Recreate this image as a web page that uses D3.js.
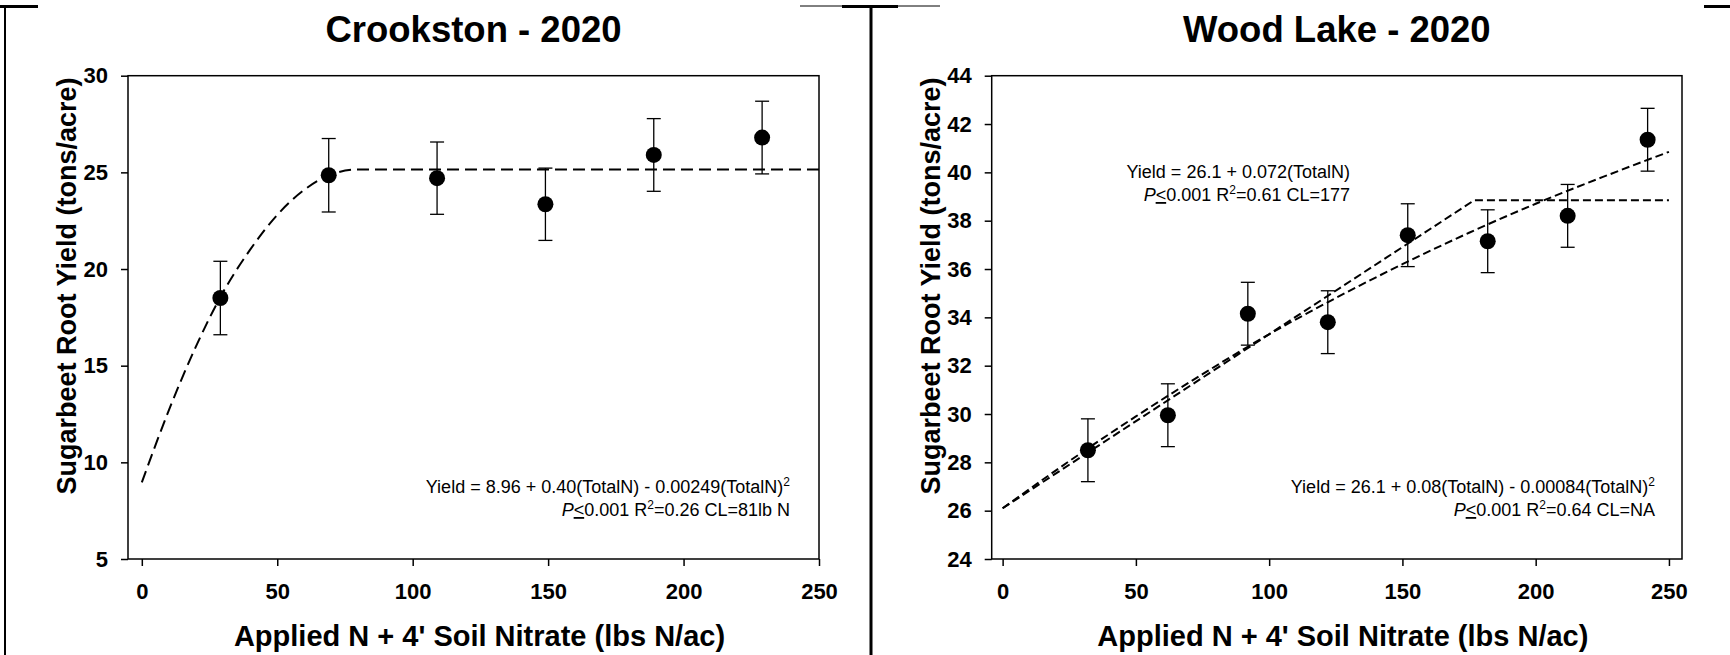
<!DOCTYPE html>
<html>
<head>
<meta charset="utf-8">
<script src="https://cdn.jsdelivr.net/npm/d3@7"></script>
<style>
  body { margin: 0; background: #fff; }
  text { font-family: "Liberation Sans", Arial, sans-serif; }
</style>
</head>
<body>
<div id="chart-area"></div>
<script>
// Crookston 2020
var ckN = [29, 69, 109, 149, 189, 229];
var ckYield = [18.5, 24.85, 24.7, 23.35, 25.9, 26.8];
var ckErr = [1.9, 1.9, 1.87, 1.87, 1.88, 1.88];
var ckFitN = [0, 10, 20, 30, 40, 50, 60, 70, 80, 250];
var ckFitY = [8.96, 12.7, 16.0, 18.8, 21.0, 22.8, 24.1, 24.9, 25.15, 25.15];
var ckYTicks = [5, 10, 15, 20, 25, 30];

// Wood Lake 2020
var wlN = [32, 62, 92, 122, 152, 182, 212, 242];
var wlYield = [28.5, 29.95, 34.15, 33.8, 37.4, 37.15, 38.2, 41.35];
var wlErr = [1.3, 1.3, 1.3, 1.3, 1.3, 1.3, 1.3, 1.3];
var wlLinN = [0, 177, 250];
var wlLinY = [26.1, 38.85, 38.85];
var wlQuadN = [0, 25, 50, 75, 100, 125, 150, 175, 200, 225, 250];
var wlQuadY = [26.1, 28.05, 29.9, 31.65, 33.3, 34.8, 36.2, 37.5, 38.7, 39.8, 40.85];
var wlYTicks = [24, 26, 28, 30, 32, 34, 36, 38, 40, 42, 44];

var xTicks = [0, 50, 100, 150, 200, 250];

var svg = d3.select("#chart-area").append("svg")
  .attr("width", 1730)
  .attr("height", 655)
  .style("background-color", "white");

// page frame bits
svg.append("line").attr("x1", 5).attr("x2", 5).attr("y1", 6).attr("y2", 655)
  .attr("stroke", "black").attr("stroke-width", 2);
svg.append("line").attr("x1", 871).attr("x2", 871).attr("y1", 6).attr("y2", 655)
  .attr("stroke", "black").attr("stroke-width", 3);
svg.append("line").attr("x1", 800).attr("x2", 940).attr("y1", 6).attr("y2", 6)
  .attr("stroke", "black").attr("stroke-width", 1);
[[0, 38], [842, 898], [1704, 1730]].forEach((s) => {
  svg.append("line").attr("x1", s[0]).attr("x2", s[1]).attr("y1", 6.5).attr("y2", 6.5)
    .attr("stroke", "black").attr("stroke-width", 3);
});

function sup(t, s, dy) {
  t.append("tspan").attr("dy", dy).attr("font-size", 12).text(s);
}

function drawPanel(p) {
  var x = d3.scaleLinear().domain(p.xDomain).range([p.left, p.right]);
  var y = d3.scaleLinear().domain(p.yDomain).range([559, 75.7]);
  var g = svg.append("g");

  // frame
  g.append("rect")
    .attr("x", p.left).attr("y", 75.7)
    .attr("width", p.right - p.left).attr("height", 559 - 75.7)
    .attr("fill", "none").attr("stroke", "black").attr("stroke-width", 1.5);

  var xAxis = g.append("g")
    .attr("transform", "translate(0,559)")
    .call(d3.axisBottom(x).tickValues(xTicks).tickSize(7).tickPadding(17).tickSizeOuter(0));
  var yAxis = g.append("g")
    .attr("transform", "translate(" + p.left + ",0)")
    .call(d3.axisLeft(y).tickValues(p.yTicks).tickSize(7).tickPadding(13).tickSizeOuter(0));
  [xAxis, yAxis].forEach((a) => {
    a.select(".domain").remove();
    a.selectAll("line").attr("stroke-width", 1.5);
    a.selectAll("text").attr("font-family", "Liberation Sans, Arial, sans-serif")
      .attr("font-size", 22).attr("font-weight", "bold").attr("fill", "black");
  });

  // title + axis labels
  var cx = (p.left + p.right) / 2;
  g.append("text").attr("x", cx).attr("y", 42).attr("text-anchor", "middle")
    .attr("font-size", 36.5).attr("font-weight", "bold").text(p.title);
  g.append("text").attr("x", cx + 6).attr("y", 646).attr("text-anchor", "middle")
    .attr("font-size", 29).attr("font-weight", "bold")
    .text("Applied N + 4' Soil Nitrate (lbs N/ac)");
  g.append("text")
    .attr("transform", "translate(" + (p.left - 52) + ",286) rotate(-90)")
    .attr("text-anchor", "middle")
    .attr("font-size", 27).attr("font-weight", "bold")
    .text("Sugarbeet Root Yield (tons/acre)");

  // fitted lines
  p.fits.forEach((f) => {
    var pts = f.n.map((d, i) => [d, f.y[i]]);
    g.append("path")
      .datum(pts)
      .attr("d", d3.line().x((d) => x(d[0])).y((d) => y(d[1])).curve(f.curve))
      .attr("fill", "none").attr("stroke", "black").attr("stroke-width", 2)
      .attr("stroke-dasharray", p.dash);
  });

  // error bars and points
  var pts = p.n.map((d, i) => ({ n: d, v: p.v[i], e: p.e[i] }));
  var bars = g.selectAll(".eb").data(pts).enter().append("g");
  bars.append("line")
    .attr("x1", (d) => x(d.n)).attr("x2", (d) => x(d.n))
    .attr("y1", (d) => y(d.v + d.e)).attr("y2", (d) => y(d.v - d.e))
    .attr("stroke", "black").attr("stroke-width", 1.3);
  [1, -1].forEach((s) => {
    bars.append("line")
      .attr("x1", (d) => x(d.n) - 7).attr("x2", (d) => x(d.n) + 7)
      .attr("y1", (d) => y(d.v + s * d.e)).attr("y2", (d) => y(d.v + s * d.e))
      .attr("stroke", "black").attr("stroke-width", 1.3);
  });
  g.selectAll("circle").data(pts).enter().append("circle")
    .attr("cx", (d) => x(d.n)).attr("cy", (d) => y(d.v)).attr("r", 8)
    .attr("fill", "black");

  // equations
  p.eqs.forEach((q) => {
    var t1 = g.append("text").attr("x", q.x).attr("y", q.y).attr("text-anchor", "end")
      .attr("font-size", 18);
    t1.append("tspan").text(q.line1);
    if (q.sq) sup(t1, "2", -7);
    var t2 = g.append("text").attr("x", q.x).attr("y", q.y + 23).attr("text-anchor", "end")
      .attr("font-size", 18);
    t2.append("tspan").attr("font-style", "italic").text("P");
    t2.append("tspan").style("text-decoration", "underline").text("<");
    t2.append("tspan").text("0.001 R");
    sup(t2, "2", -7);
    t2.append("tspan").attr("dy", 7).text(q.line2);
  });
}

drawPanel({
  title: "Crookston - 2020",
  left: 128, right: 819,
  xDomain: [-5.1, 250], yDomain: [5, 30], yTicks: ckYTicks,
  n: ckN, v: ckYield, e: ckErr,
  dash: "12,6",
  fits: [{ n: ckFitN, y: ckFitY, curve: d3.curveMonotoneX }],
  eqs: [{ x: 790, y: 493, sq: true,
    line1: "Yield = 8.96 + 0.40(TotalN) - 0.00249(TotalN)",
    line2: "=0.26 CL=81lb N" }]
});

drawPanel({
  title: "Wood Lake - 2020",
  left: 991.7, right: 1682,
  xDomain: [-4.1, 254.9], yDomain: [24, 44], yTicks: wlYTicks,
  n: wlN, v: wlYield, e: wlErr,
  dash: "8,4",
  fits: [{ n: wlLinN, y: wlLinY, curve: d3.curveLinear },
    { n: wlQuadN, y: wlQuadY, curve: d3.curveMonotoneX }],
  eqs: [{ x: 1350, y: 178, sq: false,
    line1: "Yield = 26.1 + 0.072(TotalN)",
    line2: "=0.61 CL=177" },
  { x: 1655, y: 493, sq: true,
    line1: "Yield = 26.1 + 0.08(TotalN) - 0.00084(TotalN)",
    line2: "=0.64 CL=NA" }]
});
</script>
</body>
</html>
